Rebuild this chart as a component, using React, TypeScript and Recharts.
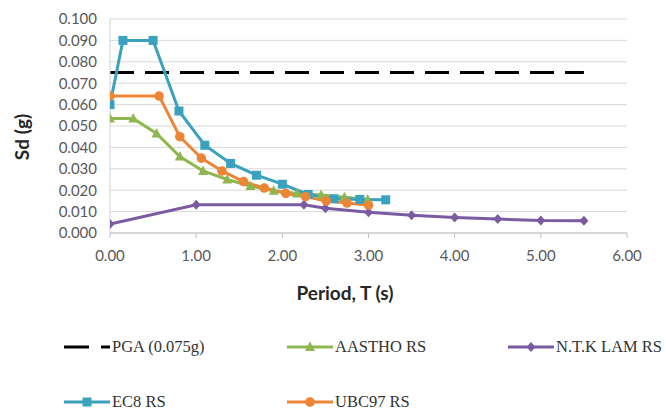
import React from "react";
import { LineChart, Line, XAxis, YAxis, CartesianGrid, Legend } from "recharts";

// period axis and Sd axis ticks
const xTicks = [0, 1, 2, 3, 4, 5, 6];
const yTicks = [0, 0.01, 0.02, 0.03, 0.04, 0.05, 0.06, 0.07, 0.08, 0.09, 0.1];

// PGA (0.075g)
const pgaT = [0, 5.5];
const pgaSd = [0.075, 0.075];

// AASTHO RS
const aasthoT = [0, 0.27, 0.54, 0.81, 1.08, 1.36, 1.63, 1.9, 2.17, 2.45, 2.72, 2.99];
const aasthoSd = [0.0535, 0.0535, 0.0465, 0.0357, 0.029, 0.025, 0.022, 0.0197, 0.0185, 0.0178, 0.0167, 0.0157];

// N.T.K LAM RS
const ntkT = [0, 1, 2.25, 2.5, 3, 3.5, 4, 4.5, 5, 5.5];
const ntkSd = [0.0042, 0.0132, 0.0132, 0.0116, 0.0097, 0.0083, 0.0073, 0.0065, 0.0058, 0.0057];

// EC8 RS
const ec8T = [0, 0.15, 0.5, 0.8, 1.1, 1.4, 1.7, 2.0, 2.3, 2.6, 2.9, 3.2];
const ec8Sd = [0.06, 0.09, 0.09, 0.057, 0.041, 0.0325, 0.027, 0.0228, 0.018, 0.016, 0.0157, 0.0155];

// UBC97 RS
const ubcT = [0, 0.57, 0.81, 1.06, 1.3, 1.55, 1.79, 2.04, 2.27, 2.51, 2.75, 3.0];
const ubcSd = [0.064, 0.064, 0.045, 0.035, 0.029, 0.024, 0.021, 0.0185, 0.017, 0.015, 0.014, 0.013];

const toRows = (ts: number[], vs: number[]) => ts.map((t, i) => ({ t, sd: vs[i] }));

const C = {
    pga: "#000000",
    aastho: "#8fb74f",
    ntk: "#7a5ba2",
    ec8: "#3aa2be",
    ubc: "#ec8536",
};

type Shape = "none" | "square" | "circle" | "triangle" | "diamond";

function Marker({ shape, cx, cy, color }: { shape: Shape; cx: number; cy: number; color: string }) {
    if (shape === "square") return <rect x={cx - 4.5} y={cy - 4.5} width={9} height={9} fill={color} />;
    if (shape === "circle") return <circle cx={cx} cy={cy} r={4.8} fill={color} />;
    if (shape === "triangle")
        return <polygon points={`${cx},${cy - 5.5} ${cx + 5},${cy + 4} ${cx - 5},${cy + 4}`} fill={color} />;
    if (shape === "diamond")
        return <polygon points={`${cx},${cy - 5} ${cx + 4.5},${cy} ${cx},${cy + 5} ${cx - 4.5},${cy}`} fill={color} />;
    return null;
}

const dotFor = (shape: Shape, color: string) => (p: any) => {
    if (p.cx == null || p.cy == null) return <g key={`e${p.index}`} />;
    return (
        <g key={`d${shape}${p.index}`}>
            <Marker shape={shape} cx={p.cx} cy={p.cy} color={color} />
        </g>
    );
};

const legendItems: { label: string; color: string; shape: Shape; dashed?: boolean; x: number; y: number }[] = [
    { label: "PGA (0.075g)", color: C.pga, shape: "none", dashed: true, x: 64, y: 27 },
    { label: "AASTHO RS", color: C.aastho, shape: "triangle", x: 287, y: 27 },
    { label: "N.T.K LAM RS", color: C.ntk, shape: "diamond", x: 508, y: 27 },
    { label: "EC8 RS", color: C.ec8, shape: "square", x: 64, y: 82 },
    { label: "UBC97 RS", color: C.ubc, shape: "circle", x: 287, y: 82 },
];

function ChartLegend() {
    return (
        <div style={{ position: "relative", width: 666, height: 91 }}>
            {legendItems.map((it) => (
                <div
                    key={it.label}
                    style={{
                        position: "absolute",
                        left: it.x,
                        top: it.y - 12,
                        height: 24,
                        display: "flex",
                        alignItems: "center",
                        whiteSpace: "nowrap",
                    }}
                >
                    <svg width={46} height={24}>
                        <line
                            x1={0}
                            y1={12}
                            x2={46}
                            y2={12}
                            stroke={it.color}
                            strokeWidth={3}
                            strokeDasharray={it.dashed ? "25 12" : undefined}
                        />
                        <Marker shape={it.shape} cx={23} cy={12} color={it.color} />
                    </svg>
                    <span
                        style={{
                            marginLeft: 2,
                            fontFamily: "'Liberation Serif', 'Times New Roman', serif",
                            fontSize: 16.5,
                            color: "#333333",
                        }}
                    >
                        {it.label}
                    </span>
                </div>
            ))}
        </div>
    );
}

export default function App() {
    const tickStyle = { fontFamily: "Lato, 'Open Sans', sans-serif", fontSize: 15, fill: "#595959" };
    return (
        <div style={{ position: "absolute", left: 0, top: 0 }}>
            <LineChart width={666} height={411} margin={{ top: 19, right: 39, left: 0, bottom: 148 }}>
                <CartesianGrid vertical={false} stroke="#d9d9d9" strokeWidth={1} />
                <XAxis
                    type="number"
                    dataKey="t"
                    domain={[0, 6]}
                    ticks={xTicks}
                    interval={0}
                    allowDataOverflow
                    height={30}
                    tickFormatter={(v: number) => v.toFixed(2)}
                    tick={tickStyle}
                    stroke="#bfbfbf"
                    tickSize={5}
                    tickMargin={12}
                    label={() => (
                        <text
                            x={345}
                            y={292}
                            textAnchor="middle"
                            dominantBaseline="central"
                            style={{ fontFamily: "Lato, sans-serif", fontSize: 19, fontWeight: 700, fill: "#262626" }}
                        >
                            Period, T (s)
                        </text>
                    )}
                />
                <YAxis
                    type="number"
                    dataKey="sd"
                    domain={[0, 0.1]}
                    ticks={yTicks}
                    interval={0}
                    width={110}
                    tickFormatter={(v: number) => v.toFixed(3)}
                    tick={tickStyle}
                    tickLine={false}
                    stroke="#d0d0d0"
                    tickSize={6}
                    tickMargin={7}
                    label={() => (
                        <text
                            x={21}
                            y={137}
                            transform="rotate(-90 21 137)"
                            textAnchor="middle"
                            dominantBaseline="central"
                            style={{ fontFamily: "Lato, sans-serif", fontSize: 19, fontWeight: 700, fill: "#262626" }}
                        >
                            Sd (g)
                        </text>
                    )}
                />
                <Line
                    data={toRows(pgaT, pgaSd)}
                    dataKey="sd"
                    name="PGA (0.075g)"
                    stroke={C.pga}
                    strokeWidth={3}
                    strokeDasharray="24 11"
                    dot={false}
                    isAnimationActive={false}
                />
                <Line
                    data={toRows(aasthoT, aasthoSd)}
                    dataKey="sd"
                    name="AASTHO RS"
                    stroke={C.aastho}
                    strokeWidth={3}
                    dot={dotFor("triangle", C.aastho)}
                    isAnimationActive={false}
                />
                <Line
                    data={toRows(ntkT, ntkSd)}
                    dataKey="sd"
                    name="N.T.K LAM RS"
                    stroke={C.ntk}
                    strokeWidth={3}
                    dot={dotFor("diamond", C.ntk)}
                    isAnimationActive={false}
                />
                <Line
                    data={toRows(ec8T, ec8Sd)}
                    dataKey="sd"
                    name="EC8 RS"
                    stroke={C.ec8}
                    strokeWidth={3}
                    dot={dotFor("square", C.ec8)}
                    isAnimationActive={false}
                />
                <Line
                    data={toRows(ubcT, ubcSd)}
                    dataKey="sd"
                    name="UBC97 RS"
                    stroke={C.ubc}
                    strokeWidth={3}
                    dot={dotFor("circle", C.ubc)}
                    isAnimationActive={false}
                />
                <Legend
                    layout="horizontal"
                    verticalAlign="middle"
                    align="center"
                    wrapperStyle={{ left: 0, top: 320, width: 666, height: 91 }}
                    content={() => <ChartLegend />}
                />
            </LineChart>
        </div>
    );
}
